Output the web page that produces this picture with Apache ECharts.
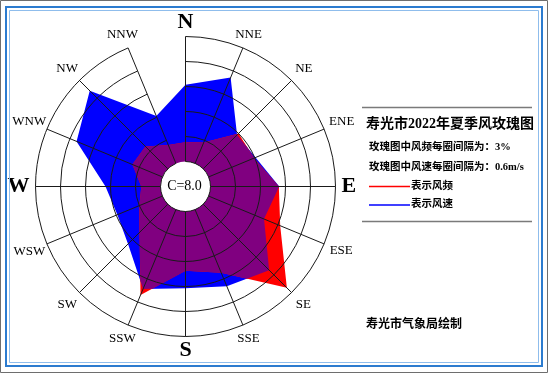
<!DOCTYPE html>
<html><head><meta charset="utf-8">
<script src="https://cdn.jsdelivr.net/npm/echarts@6/dist/echarts.min.js"></script>
<style>html,body{margin:0;padding:0;background:#fff}#c{width:548px;height:373px}</style>
</head><body><div id="c"></div>
<script>
// ---- data ----
const directions = ['N','NNE','NE','ENE','E','ESE','SE','SSE','S','SSW','SW','WSW','W','WNW','NW','NNW'];
const freqValues = [2.3, 2.7, 6.0, 5.9, 8.2, 9.3, 14.2, 8.2, 7.1, 11.1, 4.8, 3.0, 2.3, 3.9, 3.8, 2.4];      // %
const speedValues = [1.84, 2.23, 1.15, 1.22, 1.65, 1.44, 2.24, 1.99, 1.84, 2.06, 1.35, 1.17, 1.32, 2.23, 2.65, 1.23]; // m/s
const freqTicks = [0, 3, 6, 9, 12, 15];
const speedTicks = [0, 0.6, 1.2, 1.8, 2.4, 3.0];
const calmText = 'C=8.0';
const titleText = '寿光市2022年夏季风玫瑰图';
const noteFreq = '玫瑰图中风频每圈间隔为：3%';
const noteSpeed = '玫瑰图中风速每圈间隔为：0.6m/s';
const legendFreq = '表示风频';
const legendSpeed = '表示风速';
const creditText = '寿光市气象局绘制';

const FREQ_MAX = freqTicks[freqTicks.length - 1], FREQ_INT = freqTicks[1] - freqTicks[0];
const SPEED_MAX = speedTicks[speedTicks.length - 1], SPEED_INT = speedTicks[1] - speedTicks[0];
const SPEED_TO_FREQ = FREQ_MAX / SPEED_MAX;

const SERIF = '"Liberation Serif","Noto Sans CJK SC"';
const cardinalFont = 'bold 22px ' + SERIF;
const minorFont = '13px ' + SERIF;
const LABEL_GAP = 156;

const mctx = document.createElement('canvas').getContext('2d');
function textWidth(t, font) { mctx.font = font; return mctx.measureText(t).width; }

function segIntersect(a, b, c, d) {
  const r = [b[0] - a[0], b[1] - a[1]], s = [d[0] - c[0], d[1] - c[1]];
  const den = r[0] * s[1] - r[1] * s[0];
  if (Math.abs(den) < 1e-9) return a;
  const t = ((c[0] - a[0]) * s[1] - (c[1] - a[1]) * s[0]) / den;
  return [a[0] + t * r[0], a[1] + t * r[1]];
}
function intersectStar(P, Q, cx, cy) {
  const n = P.length, out = [];
  const dist = p => Math.hypot(p[0] - cx, p[1] - cy);
  for (let i = 0; i < n; i++) {
    const j = (i + 1) % n;
    const di = dist(P[i]) - dist(Q[i]), dj = dist(P[j]) - dist(Q[j]);
    out.push(di <= 0 ? P[i] : Q[i]);
    if (di * dj < 0) out.push(segIntersect(P[i], P[j], Q[i], Q[j]));
  }
  return out;
}

const chart = echarts.init(document.getElementById('c'), null, { renderer: 'canvas' });
const CENTER = [185.5, 186.5];
const RADIUS = [25, 150];
const lineColor = '#1a1a1a';

const option = {
  backgroundColor: '#fff',
  animation: false,
  polar: [
    { center: CENTER, radius: RADIUS },
    { center: CENTER, radius: RADIUS }
  ],
  angleAxis: [
    { polarIndex: 0, type: 'category', data: directions, boundaryGap: false, startAngle: 90, clockwise: true, z: 10,
      axisLine: { show: false }, axisTick: { show: false }, axisLabel: { show: false },
      splitLine: { show: true, lineStyle: { color: lineColor, width: 1 } } },
    { polarIndex: 1, type: 'category', data: directions, boundaryGap: false, startAngle: 90, clockwise: true,
      axisLine: { show: false }, axisTick: { show: false }, axisLabel: { show: false }, splitLine: { show: false } }
  ],
  radiusAxis: [
    { polarIndex: 0, type: 'value', min: 0, max: FREQ_MAX, interval: FREQ_INT, z: 10,
      axisLine: { show: false }, axisTick: { show: false }, axisLabel: { show: false },
      splitLine: { show: true, lineStyle: { color: lineColor, width: 1 } } },
    { polarIndex: 1, type: 'value', min: 0, max: SPEED_MAX, interval: SPEED_INT,
      axisLine: { show: false }, axisTick: { show: false }, axisLabel: { show: false }, splitLine: { show: false } }
  ],
  series: [
    { type: 'custom', coordinateSystem: 'polar', polarIndex: 1, z: 2, silent: true, data: [[0, 0]],
      renderItem: (params, api) => ({
        type: 'polygon', shape: { points: speedValues.map((v, i) => api.coord([v, i])) },
        style: { fill: '#0000ff', stroke: null }
      }) },
    { type: 'custom', coordinateSystem: 'polar', polarIndex: 0, z: 3, silent: true, data: [[0, 0]],
      renderItem: (params, api) => ({
        type: 'polygon', shape: { points: freqValues.map((v, i) => api.coord([v, i])) },
        style: { fill: '#ff0000', stroke: null }
      }) },
    { type: 'custom', coordinateSystem: 'polar', polarIndex: 0, z: 4, silent: true, data: [[0, 0]],
      renderItem: (params, api) => {
        const cs = params.coordSys;
        const P = freqValues.map((v, i) => api.coord([v, i]));
        const Q = speedValues.map((v, i) => api.coord([v * SPEED_TO_FREQ, i]));
        return { type: 'polygon', shape: { points: intersectStar(P, Q, cs.cx, cs.cy) },
                 style: { fill: '#800080', stroke: null } };
      } },
    { type: 'custom', coordinateSystem: 'polar', polarIndex: 0, z: 5, silent: true, data: [[0, 0]],
      renderItem: (params, api) => {
        const cs = params.coordSys;
        const p0 = api.coord([0, 0]);
        const r0 = Math.hypot(p0[0] - cs.cx, p0[1] - cs.cy);
        return { type: 'group', children: [
          { type: 'circle', shape: { cx: cs.cx, cy: cs.cy, r: r0 }, style: { fill: '#fff', stroke: null } },
          { type: 'text', x: cs.cx - 1, y: cs.cy, style: { text: calmText, font: '14px ' + SERIF, fill: '#000',
            textAlign: 'center', textVerticalAlign: 'middle' } }
        ] };
      } },
    { type: 'custom', coordinateSystem: 'polar', polarIndex: 0, z: 12, silent: true, data: [[0, 0]],
      renderItem: (params, api) => {
        const cs = params.coordSys;
        const cx = cs.cx, cy = cs.cy;
        const children = directions.map((d, i) => {
          const p = api.coord([FREQ_MAX, i]);
          const R = Math.hypot(p[0] - cx, p[1] - cy);
          const ux = (p[0] - cx) / R, uy = (p[1] - cy) / R;
          const isCard = i % 4 === 0;
          const font = isCard ? cardinalFont : minorFont;
          const w = textWidth(d, font);
          const h = (isCard || Math.abs(uy) > 0.5) ? 16 : 10;
          const ex = Math.abs(ux) > 1e-6 ? w / 2 / Math.abs(ux) : Infinity;
          const ey = Math.abs(uy) > 1e-6 ? h / 2 / Math.abs(uy) : Infinity;
          const rl = LABEL_GAP + Math.min(ex, ey);
          return { type: 'text', x: cx + ux * rl, y: cy + uy * rl,
                   style: { text: d, font: font, fill: '#000', textAlign: 'center', textVerticalAlign: 'middle' } };
        });
        return { type: 'group', children };
      } }
  ],
  graphic: [
    { type: 'rect', z: 20, shape: { x: 0.5, y: 0.5, width: 547, height: 372 }, style: { fill: null, stroke: '#6e6e6e', lineWidth: 1 } },
    { type: 'rect', z: 20, shape: { x: 6, y: 7, width: 536, height: 359 }, style: { fill: null, stroke: '#2c7bcf', lineWidth: 2 } },
    { type: 'rect', z: 20, shape: { x: 9.5, y: 10.5, width: 529, height: 352 }, style: { fill: null, stroke: '#8fbdec', lineWidth: 1 } },
    { type: 'line', z: 20, shape: { x1: 362, y1: 107.5, x2: 532, y2: 107.5 }, style: { stroke: '#7a7a7a', lineWidth: 1.5 } },
    { type: 'line', z: 20, shape: { x1: 362, y1: 221.5, x2: 532, y2: 221.5 }, style: { stroke: '#7a7a7a', lineWidth: 1.5 } },
    { type: 'text', z: 20, style: { text: titleText, x: 366, y: 124, font: 'bold 14px ' + SERIF, fill: '#000', textVerticalAlign: 'middle' } },
    { type: 'text', z: 20, style: { text: noteFreq, x: 369, y: 147.5, font: 'bold 10.5px ' + SERIF, fill: '#000', textVerticalAlign: 'middle' } },
    { type: 'text', z: 20, style: { text: noteSpeed, x: 369, y: 167, font: 'bold 10.5px ' + SERIF, fill: '#000', textVerticalAlign: 'middle' } },
    { type: 'line', z: 20, shape: { x1: 369, y1: 186.5, x2: 410, y2: 186.5 }, style: { stroke: '#ff0000', lineWidth: 1.5 } },
    { type: 'text', z: 20, style: { text: legendFreq, x: 411, y: 186, font: 'bold 10.5px ' + SERIF, fill: '#000', textVerticalAlign: 'middle' } },
    { type: 'line', z: 20, shape: { x1: 369, y1: 205, x2: 410, y2: 205 }, style: { stroke: '#0000ff', lineWidth: 1.5 } },
    { type: 'text', z: 20, style: { text: legendSpeed, x: 411, y: 204.5, font: 'bold 10.5px ' + SERIF, fill: '#000', textVerticalAlign: 'middle' } },
    { type: 'text', z: 20, style: { text: creditText, x: 366, y: 324.5, font: 'bold 12px ' + SERIF, fill: '#000', textVerticalAlign: 'middle' } }
  ]
};
chart.setOption(option);
</script></body></html>
